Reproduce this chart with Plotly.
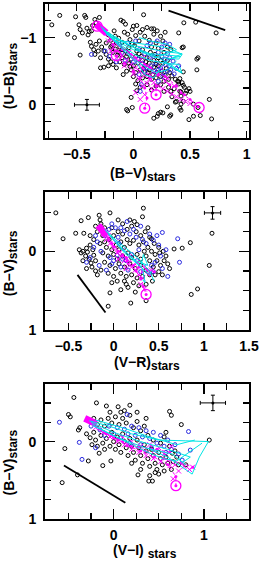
import plotly.graph_objects as go

# ---------------- Panel 1: (B-V) vs (U-B) ----------------
p1_black = [(-0.72,-1.19),(-0.65,-1.33),(-0.58,-1.05),(-0.52,-1.00),(-0.47,-0.74),(-0.51,-1.31),(-0.43,-1.33),(-0.48,-1.19),(-0.47,-1.12),(-0.41,-1.14),(-0.39,-1.09),(-0.42,-1.30),(-0.34,-1.27),(-0.45,-1.07),(-0.40,-1.04),(-0.37,-0.87),(-0.35,-0.82),(-0.31,-0.80),(-0.34,-0.75),(-0.26,-0.56),(-0.22,-0.58),(-0.29,-0.55),(-0.36,-1.18),(-0.33,-1.22),(-0.30,-1.30),(-0.37,-1.10),(-0.38,-0.93),(-0.33,-0.90),(-0.30,-0.95),(-0.28,-0.86),(-0.26,-0.80),(-0.24,-0.75),(-0.29,-0.70),(-0.22,-0.68),(-0.20,-0.64),(-0.18,-0.60),
(-0.17,-1.10),(-0.16,-1.02),(-0.13,-0.99),(-0.11,-1.26),(-0.09,-1.24),(-0.07,-1.20),(0.00,-1.17),(0.03,-1.18),(-0.01,-1.12),(0.09,-1.34),(0.08,-1.12),(-0.22,-1.04),(-0.20,-0.96),(-0.24,-0.92),(-0.19,-0.88),(-0.15,-0.92),(-0.12,-0.86),(-0.10,-0.93),(-0.07,-0.80),(-0.05,-1.05),(-0.03,-0.97),(-0.08,-1.08),(0.02,-1.03),(0.05,-0.95),(0.01,-0.88),(-0.04,-0.85),(0.06,-1.08),(0.10,-1.02),(0.12,-1.15),(0.14,-0.96),(0.16,-1.13),(0.18,-1.05),(0.21,-1.10),(0.24,-1.02),(0.20,-0.92),(0.26,-0.95),(0.28,-1.08),(0.18,-1.13),(0.30,-0.86),(0.16,-0.86),(0.08,-0.82),(0.22,-0.84),(0.27,-0.78),(0.33,-0.82),
(0.445,-1.22),(0.55,-1.23),(0.73,-1.07),(0.40,-1.07),(0.44,-0.86),(0.57,-0.70),(0.56,-0.52),(0.43,-0.85),(0.56,-0.68),
(-0.18,-0.78),(-0.14,-0.74),(-0.10,-0.70),(-0.06,-0.72),(-0.02,-0.68),(0.02,-0.72),(0.05,-0.76),(-0.12,-0.64),(-0.08,-0.60),(-0.04,-0.62),(0.00,-0.58),(0.04,-0.62),(0.08,-0.66),(0.12,-0.70),(0.10,-0.58),(0.14,-0.62),(0.18,-0.66),(0.22,-0.70),(0.06,-0.52),(0.02,-0.48),(-0.02,-0.52),(-0.06,-0.50),(0.10,-0.48),(0.14,-0.52),(0.18,-0.56),(0.22,-0.58),(0.26,-0.62),(0.30,-0.66),(0.17,-0.45),(0.21,-0.48),(0.25,-0.50),(0.29,-0.54),(0.08,-0.40),(0.12,-0.42),(0.16,-0.38),(0.20,-0.40),(0.24,-0.42),(0.28,-0.44),(0.04,-0.36),(0.00,-0.42),(0.32,-0.48),(0.34,-0.43),(0.31,-0.38),(0.27,-0.35),(-0.10,-0.82),(-0.01,-0.90),(0.15,-0.78),(0.19,-0.75),(-0.15,-0.55),(-0.09,-0.45),
(-0.20,-0.86),(-0.16,-0.83),(-0.13,-0.78),(-0.05,-0.76),(0.03,-0.80),(0.07,-0.72),(0.11,-0.64),(0.20,-0.60),(0.24,-0.66),(0.13,-0.48),(0.09,-0.54),(-0.03,-0.57),
(0.37,-0.38),(0.39,-0.35),(0.40,-0.31),(0.43,-0.33),(0.45,-0.26),(0.31,-0.26),(0.36,-0.24),(0.33,-0.20),(0.34,-0.12),(0.37,-0.04),(0.42,-0.19),(0.42,-0.13),(0.47,-0.21),(0.49,-0.24),(0.46,-0.17),(0.42,-0.01),(0.53,-0.01),(0.42,0.08),(0.30,0.03),(0.24,0.11),(0.22,0.13),(0.21,0.17),(0.18,0.20),(0.33,0.15),(0.49,0.22),(0.53,0.17),(0.69,0.21),(0.67,-0.08),(0.59,0.16),(0.57,0.04),(0.41,0.05),(0.44,-0.05),(0.38,-0.05),(0.41,-0.20),(0.44,-0.29),(0.40,-0.34),(0.41,-0.39),(0.44,-0.49),(0.50,-0.20),
(-0.02,-0.11),(-0.01,0.04),(-0.05,0.09),(0.02,-0.31),(0.03,-0.21),(-0.06,0.07),(0.26,0.12),(0.32,0.17),(0.27,-0.20),(0.20,-0.28),(0.16,-0.22),(0.06,-0.26),(0.12,-0.30),(0.24,-0.30)]

p1_blue = [(-0.37,-0.75),(-0.25,-0.80),(-0.15,-0.64),(-0.10,-0.78),(-0.05,-0.92),(0.02,-0.95),(0.05,-0.82),(0.10,-0.76),(0.12,-0.88),(0.15,-0.92),(0.18,-0.72),(0.22,-0.78),(0.25,-0.72),(0.28,-0.68),(0.30,-0.76),(0.32,-0.70),(0.35,-0.65),(0.32,-0.58),(0.28,-0.60),(0.24,-0.55),(0.20,-0.62),(0.16,-0.58),(0.12,-0.55),(0.08,-0.62),(0.04,-0.68),(0.00,-0.64),(0.05,-0.45),(0.10,-0.50),(0.18,-0.50),(0.22,-0.52),(0.27,-0.48),(0.30,-0.50),(0.33,-0.52),(0.36,-0.46),(0.38,-0.54),(0.26,-0.42),(0.22,-0.35),(0.07,-0.30),(0.06,-0.20),(0.21,-0.95),(0.25,-0.86),(0.28,-0.92),(0.32,-0.90),(-0.07,-0.66),(-0.21,-0.72),(0.40,-0.58),(0.14,-0.70),(-0.12,-0.90)]

p1_magenta_tracks = [
    [(-0.32,-1.18),(-0.25,-1.05),(-0.18,-0.90),(-0.15,-0.73),(-0.08,-0.62),(0.00,-0.50),(0.06,-0.40),(0.10,-0.25),(0.12,-0.10),(0.10,0.05)],
    [(-0.30,-1.15),(-0.20,-0.98),(-0.10,-0.82),(0.00,-0.68),(0.08,-0.55),(0.15,-0.40),(0.20,-0.28),(0.20,-0.15)],
    [(-0.28,-1.12),(-0.15,-0.92),(-0.02,-0.75),(0.10,-0.60),(0.22,-0.45),(0.32,-0.30),(0.42,-0.18),(0.50,-0.08),(0.57,0.03)],
    [(-0.26,-1.10),(-0.12,-0.88),(0.02,-0.70),(0.15,-0.55),(0.28,-0.42),(0.38,-0.28),(0.45,-0.15)],
]
p1_magenta_thick = [(-0.33,-1.20),(-0.29,-1.15),(-0.24,-1.07)]
p1_magenta_circles = [(-0.32,-1.17),(-0.15,-0.73),(0.10,0.05),(0.20,-0.15),(0.58,0.04)]
p1_magenta_crosses = [(-0.22,-0.95),(-0.18,-0.85),(-0.14,-0.80),(-0.10,-0.72),(-0.06,-0.66),(-0.02,-0.60),(0.02,-0.55),(0.06,-0.50),(0.10,-0.44),(0.14,-0.38),(0.18,-0.33),(0.22,-0.28),(0.26,-0.24),(0.30,-0.20),(0.34,-0.16),(0.38,-0.12),(0.42,-0.08),(0.46,-0.05),(0.50,-0.02),(-0.20,-0.80),(-0.15,-0.70),(-0.08,-0.58),(0.00,-0.46),(0.05,-0.38),(0.12,-0.32),(0.08,-0.28),(0.16,-0.24),(0.04,-0.65),(0.12,-0.58),(0.20,-0.45),(0.28,-0.35),(0.36,-0.28),(-0.04,-0.78),(0.08,-0.70),(0.24,-0.55),(0.02,-0.18),(0.10,-0.15),(0.06,-0.08),(0.15,-0.44),(0.30,-0.40)]
p1_cyan_tracks = [
    [(-0.29,-1.17),(-0.20,-1.02),(-0.05,-0.90),(0.10,-0.85),(0.25,-0.80),(0.43,-0.76)],
    [(-0.28,-1.15),(-0.15,-0.95),(0.00,-0.82),(0.15,-0.76),(0.30,-0.74),(0.42,-0.72),(0.35,-0.70)],
    [(-0.27,-1.12),(-0.12,-0.90),(0.02,-0.74),(0.15,-0.66),(0.28,-0.62),(0.40,-0.60),(0.43,-0.47),(0.35,-0.55)],
    [(-0.26,-1.10),(-0.10,-0.85),(0.03,-0.65),(0.12,-0.55),(0.20,-0.48),(0.30,-0.52),(0.38,-0.65)],
    [(-0.25,-1.08),(-0.08,-0.80),(0.04,-0.60),(0.10,-0.45),(0.18,-0.40),(0.25,-0.58),(0.32,-0.68),(0.43,-0.76)],
    [(-0.24,-1.05),(-0.05,-0.90),(0.08,-0.78),(0.20,-0.70),(0.38,-0.82),(0.30,-0.90),(0.15,-0.95),(0.05,-1.00)],
    [(-0.27,-1.12),(-0.10,-0.95),(0.10,-0.90),(0.30,-0.85),(0.43,-0.75),(0.40,-0.68),(0.25,-0.70)],
    [(-0.26,-1.10),(0.00,-0.86),(0.20,-0.72),(0.40,-0.52),(0.42,-0.48),(0.30,-0.60)],
]
p1_redvec = [(0.31,-1.40),(0.81,-1.11)]
p1_err = (-0.41, 0.0, 0.11, 0.08)

# ---------------- Panel 2: (V-R) vs (B-V) ----------------
p2_black = [(-0.64,-0.49),(-0.56,-0.16),(-0.42,-0.23),(-0.36,-0.39),(-0.28,-0.43),(-0.33,-0.23),(-0.36,0.02),(-0.31,0.06),(-0.25,0.15),(-0.18,0.30),(-0.23,-0.02),(-0.16,-0.46),(-0.15,-0.40),(-0.04,-0.49),(0.23,-0.38),(0.32,-0.44),(0.33,-0.55),(-0.04,0.53),(-0.06,0.70),(0.19,0.66),(0.08,0.49),(0.14,0.42),(0.16,0.46),(0.43,0.38),(0.36,0.63),(0.67,-0.03),(0.76,-0.04),(0.85,-0.11),(1.06,0.18),(1.09,-0.23),(0.86,0.55),(0.93,0.48),(0.60,0.16),(0.51,0.02),(0.42,-0.16),
(-0.38,-0.02),(-0.34,0.00),(-0.30,-0.04),(-0.26,-0.08),(-0.29,0.01),(-0.22,0.05),(-0.27,0.10),(-0.20,0.12),(-0.24,0.20),(-0.20,0.25),(-0.30,0.22),(-0.34,0.12),(-0.22,-0.15),(-0.18,-0.25),(-0.26,-0.20),(-0.14,-0.35),(-0.12,-0.20),(-0.10,-0.30),(-0.20,-0.32),
(-0.15,-0.10),(-0.10,-0.12),(-0.05,-0.15),(0.00,-0.20),(0.05,-0.25),(0.10,-0.22),(0.15,-0.28),(0.20,-0.32),(0.25,-0.25),(0.30,-0.20),(0.35,-0.25),(0.40,-0.18),(0.45,-0.10),(0.50,-0.05),(-0.08,-0.05),(-0.02,-0.02),(0.03,-0.08),(0.08,-0.12),(0.12,-0.05),(0.18,-0.10),(0.22,-0.14),(0.28,-0.08),(0.33,-0.12),(0.38,-0.05),(0.42,0.00),(0.46,0.04),(0.55,0.00),(0.58,0.06),(-0.12,0.02),(-0.06,0.06),(0.00,0.04),(0.04,0.10),(0.10,0.06),(0.16,0.02),(0.20,0.08),(0.26,0.04),(0.30,0.10),(0.36,0.06),(0.40,0.12),(0.48,0.12),(0.52,0.18),(-0.10,0.14),(-0.04,0.18),(0.02,0.22),(0.06,0.16),(0.12,0.20),(0.18,0.16),(0.24,0.22),(0.30,0.18),(0.36,0.24),(0.44,0.20),(0.50,0.26),(-0.14,0.24),(-0.06,0.28),(0.00,0.32),(0.08,0.28),(0.14,0.32),(0.20,0.30),(0.26,0.34),(0.32,0.32),(0.40,0.30),(0.46,0.30),(0.04,0.38),(0.12,0.38),(0.22,0.40),(0.28,0.44),(0.36,0.42),(-0.02,0.40),(0.24,0.52),(0.10,-0.35),(0.18,-0.40),(0.05,-0.40),(0.26,-0.34),(0.38,-0.30),(0.15,-0.15),(-0.02,-0.30),(0.06,-0.02),(0.34,0.00),(0.56,0.12),(0.62,0.22),(0.54,0.30)]

p2_blue = [(0.54,-0.24),(0.71,-0.16),(0.73,0.14),(0.60,0.32),(-0.08,0.24),(-0.20,-0.20),(-0.18,-0.12),(-0.22,-0.05),(-0.14,0.00),(-0.10,-0.20),(-0.05,-0.28),(-0.02,-0.35),(0.02,-0.30),(0.05,-0.18),(0.08,-0.30),(0.12,-0.26),(0.15,-0.38),(0.18,-0.22),(0.22,-0.28),(0.25,-0.18),(0.30,-0.32),(0.32,-0.15),(0.36,-0.10),(0.40,-0.22),(0.44,-0.14),(0.48,-0.20),(0.50,-0.08),(0.46,0.14),(0.52,0.06),(0.42,0.18),(0.38,0.26),(0.10,0.10),(0.04,0.05),(0.00,0.12),(-0.04,0.08),(0.14,0.12),(0.20,0.04),(0.26,0.12),(0.16,0.24),(0.08,0.20),(-0.02,0.16),(-0.26,0.08),(-0.30,0.14),(-0.16,0.18),(0.30,0.26),(0.54,0.22),(0.58,-0.02),(0.06,-0.10),(0.28,-0.02),(0.44,0.26)]

p2_magenta_tracks = [
    [(-0.16,-0.32),(-0.05,-0.15),(0.05,0.00),(0.15,0.12),(0.25,0.25),(0.30,0.35),(0.33,0.45),(0.36,0.55)],
    [(-0.15,-0.30),(-0.02,-0.10),(0.10,0.05),(0.22,0.18),(0.32,0.26),(0.40,0.30)],
    [(-0.14,-0.28),(0.00,-0.06),(0.14,0.08),(0.28,0.20),(0.38,0.24),(0.45,0.26)],
]
p2_magenta_thick = [(-0.17,-0.33),(-0.13,-0.27),(-0.08,-0.20)]
p2_magenta_circles = [(0.36,0.55)]
p2_magenta_crosses = [(-0.12,-0.22),(-0.08,-0.15),(-0.04,-0.10),(0.00,-0.04),(0.04,0.02),(0.08,0.06),(0.12,0.12),(0.16,0.16),(0.20,0.20),(0.24,0.24),(0.28,0.30),(0.32,0.34),(0.30,0.42),(0.34,0.48),(-0.06,-0.20),(0.02,-0.12),(0.10,-0.02),(0.18,0.06),(0.26,0.14),(0.34,0.20),(0.42,0.24),(0.05,0.10),(0.14,0.22)]
p2_cyan_tracks = [
    [(-0.10,-0.28),(0.05,-0.12),(0.18,0.00),(0.30,0.12),(0.40,0.26),(0.45,0.38)],
    [(-0.08,-0.25),(0.08,-0.06),(0.22,0.10),(0.32,0.22),(0.35,0.40),(0.32,0.36)],
    [(-0.06,-0.22),(0.10,-0.02),(0.25,0.12),(0.38,0.18),(0.33,0.04),(0.30,0.20)],
    [(-0.04,-0.20),(0.12,0.02),(0.26,0.16),(0.40,0.30),(0.42,0.25)],
]
p2_redvec = [(-0.40,0.30),(-0.09,0.78)]
p2_err = (1.096, -0.49, 0.09, 0.08)

# ---------------- Panel 3: (V-I) vs (B-V) ----------------
p3_black = [(-0.44,-0.57),(-0.50,-0.35),(-0.48,-0.32),(-0.57,0.53),(-0.54,0.09),(-0.40,0.43),(-0.375,-0.18),(-0.39,-0.15),(-0.19,-0.50),(-0.08,-0.46),(0.05,-0.45),(0.18,-0.47),(0.62,-0.39),(0.64,-0.34),(0.75,-0.22),(0.58,-0.12),(1.06,-0.02),(0.65,0.15),(0.43,0.51),(0.39,0.51),(0.27,0.43),(-0.12,0.31),(-0.28,0.25),(-0.03,0.25),
(-0.30,-0.10),(-0.26,-0.05),(-0.22,-0.12),(-0.20,-0.02),(-0.18,0.06),(-0.24,0.04),(-0.14,-0.08),(-0.12,0.02),(-0.10,0.10),(-0.16,0.15),(-0.08,-0.04),(-0.04,0.06),(-0.02,-0.12),(0.00,0.00),(0.02,0.10),(0.04,-0.06),(0.06,0.04),(0.08,0.14),(0.10,-0.10),(0.12,0.00),(0.14,0.08),(0.16,0.18),(0.18,-0.04),(0.20,0.06),(0.22,0.14),(0.24,0.24),(0.26,-0.02),(0.28,0.08),(0.30,0.18),(0.32,0.28),(0.34,0.04),(0.36,0.12),(0.38,0.22),(0.40,0.32),(0.42,0.10),(0.44,0.18),(0.46,0.28),(0.48,0.36),(0.50,0.14),(0.52,0.22),(0.54,0.30),(0.56,0.38),(0.58,0.20),(0.60,0.28),(0.46,0.40),(0.40,0.44),(0.50,0.42),(0.30,0.36),(0.20,0.28),
(-0.22,-0.30),(-0.18,-0.22),(-0.14,-0.28),(-0.10,-0.20),(-0.06,-0.30),(-0.02,-0.24),(0.02,-0.32),(0.06,-0.22),(0.10,-0.30),(0.14,-0.24),(0.18,-0.34),(0.22,-0.18),(0.26,-0.26),(0.30,-0.14),(0.34,-0.20),(0.08,-0.38),(-0.04,-0.38),(0.12,-0.40),(0.38,-0.08),(0.44,-0.02),(0.52,0.02),(0.56,-0.06),(0.62,0.06),(0.68,0.12),(0.70,0.20),(0.66,0.26),(0.72,0.30),(0.64,0.36),(0.36,-0.30),(0.26,-0.38),(0.80,0.30)]

p3_blue = [(-0.60,-0.25),(-0.35,0.23),(-0.38,0.01),(0.83,-0.13),(0.85,0.11),(0.15,-0.35),(-0.10,-0.08),(-0.05,-0.20),(0.00,-0.10),(0.04,-0.18),(0.08,-0.05),(0.12,-0.16),(0.16,-0.10),(0.20,-0.20),(0.24,-0.08),(0.28,-0.18),(0.32,-0.06),(0.36,-0.14),(0.40,-0.04),(0.44,-0.12),(0.48,0.02),(0.52,-0.08),(0.56,0.06),(0.60,-0.02),(0.64,0.10),(0.68,0.04),(0.72,0.16),(0.30,0.04),(0.18,0.02),(-0.15,-0.15),(-0.20,0.08),(0.42,0.08),(0.76,0.24),(0.58,0.14),(-0.25,-0.20)]

p3_magenta_tracks = [
    [(-0.30,-0.28),(-0.15,-0.16),(0.00,-0.05),(0.15,0.05),(0.30,0.12),(0.45,0.20),(0.60,0.30),(0.69,0.45),(0.69,0.57)],
    [(-0.28,-0.26),(-0.10,-0.12),(0.05,-0.02),(0.20,0.06),(0.35,0.12),(0.55,0.22),(0.75,0.28),(0.88,0.33)],
    [(-0.26,-0.24),(-0.08,-0.10),(0.10,0.00),(0.28,0.06),(0.48,0.10),(0.62,0.14)],
]
p3_magenta_thick = [(-0.32,-0.30),(-0.26,-0.27),(-0.19,-0.23)]
p3_magenta_circles = [(0.69,0.57)]
p3_magenta_crosses = [(0.875,0.33),(0.625,0.31),(0.64,0.06),(0.45,0.12),(-0.20,-0.18),(-0.12,-0.12),(-0.04,-0.06),(0.04,0.00),(0.12,0.04),(0.20,0.10),(0.28,0.14),(0.36,0.18),(0.44,0.22),(0.52,0.26),(0.60,0.24),(0.68,0.30),(0.72,0.38),(0.66,0.48),(0.30,0.06),(0.40,0.04),(0.50,0.08),(0.20,0.00),(0.10,-0.06),(0.56,0.16),(0.78,0.32),(0.84,0.36)]
p3_cyan_tracks = [
    [(-0.27,-0.27),(-0.05,-0.20),(0.20,-0.10),(0.50,-0.02),(0.80,-0.01),(1.05,0.00),(0.95,0.20),(0.87,0.42),(0.60,0.20),(0.40,0.10)],
    [(-0.25,-0.25),(0.00,-0.12),(0.30,0.00),(0.60,0.10),(0.85,0.20),(0.75,0.28)],
    [(-0.24,-0.22),(0.05,-0.05),(0.35,0.08),(0.65,0.16),(0.80,0.30)],
    [(-0.22,-0.20),(0.10,-0.02),(0.40,0.15),(0.55,0.22),(0.70,0.25),(0.98,0.02)],
    [(-0.20,-0.28),(0.10,-0.18),(0.40,-0.06),(0.70,0.04),(0.90,-0.02)],
]
p3_redvec = [(-0.55,0.31),(0.13,0.79)]
p3_err = (1.10, -0.50, 0.14, 0.10)

BLACK = "#000000"
BLUE = "#2a2ae0"
MAG = "#ff00ff"
CYAN = "#00e5e5"

fig = go.Figure()

def xs(pts):
    return [p[0] for p in pts]

def ys(pts):
    return [p[1] for p in pts]

def add_panel(n, black, blue, mtracks, mthick, mcircles, mcrosses, ctracks, redvec, err):
    xa = "x" if n == 1 else f"x{n}"
    ya = "y" if n == 1 else f"y{n}"
    fig.add_trace(go.Scatter(x=xs(black), y=ys(black), mode="markers", xaxis=xa, yaxis=ya,
                             marker=dict(symbol="circle-open", size=4, color=BLACK, line=dict(width=1, color=BLACK))))
    fig.add_trace(go.Scatter(x=xs(blue), y=ys(blue), mode="markers", xaxis=xa, yaxis=ya,
                             marker=dict(symbol="circle-open", size=4, color=BLUE, line=dict(width=1, color=BLUE))))
    for t in mtracks:
        fig.add_trace(go.Scatter(x=xs(t), y=ys(t), mode="lines+markers", xaxis=xa, yaxis=ya,
                                 line=dict(color=MAG, width=1, dash="dot"),
                                 marker=dict(size=3, color=MAG)))
    fig.add_trace(go.Scatter(x=xs(mcrosses), y=ys(mcrosses), mode="markers", xaxis=xa, yaxis=ya,
                             marker=dict(symbol="x-thin-open", size=5, color=MAG, line=dict(width=1, color=MAG))))
    fig.add_trace(go.Scatter(x=xs(mthick), y=ys(mthick), mode="lines", xaxis=xa, yaxis=ya,
                             line=dict(color=MAG, width=7)))
    fig.add_trace(go.Scatter(x=xs(mcircles), y=ys(mcircles), mode="markers", xaxis=xa, yaxis=ya,
                             marker=dict(symbol="circle-open", size=10, color=MAG, line=dict(width=1.3, color=MAG))))
    for t in ctracks:
        fig.add_trace(go.Scatter(x=xs(t), y=ys(t), mode="lines", xaxis=xa, yaxis=ya,
                                 line=dict(color=CYAN, width=1)))
    fig.add_trace(go.Scatter(x=xs(redvec), y=ys(redvec), mode="lines", xaxis=xa, yaxis=ya,
                             line=dict(color=BLACK, width=1.8)))
    ex, ey, dx, dy = err
    fig.add_trace(go.Scatter(x=[ex], y=[ey], mode="markers", xaxis=xa, yaxis=ya,
                             marker=dict(size=3, color=BLACK),
                             error_x=dict(type="data", array=[dx], color=BLACK, thickness=1, width=2),
                             error_y=dict(type="data", array=[dy], color=BLACK, thickness=1, width=2)))

add_panel(1, p1_black, p1_blue, p1_magenta_tracks, p1_magenta_thick, p1_magenta_circles, p1_magenta_crosses, p1_cyan_tracks, p1_redvec, p1_err)
add_panel(2, p2_black, p2_blue, p2_magenta_tracks, p2_magenta_thick, p2_magenta_circles, p2_magenta_crosses, p2_cyan_tracks, p2_redvec, p2_err)
add_panel(3, p3_black, p3_blue, p3_magenta_tracks, p3_magenta_thick, p3_magenta_circles, p3_magenta_crosses, p3_cyan_tracks, p3_redvec, p3_err)

FONT = "Liberation Sans"
tickfont = dict(family=FONT, size=14, color="black", weight="bold")

def axis_common(dtick, minor_dtick, rng, major_len=8, minor_len=6):
    return dict(range=rng, dtick=dtick, tick0=0, ticks="inside", ticklen=major_len, tickwidth=1.3,
                tickcolor="black", showline=True, linewidth=2, linecolor="black", mirror="allticks",
                showgrid=False, zeroline=False, tickfont=tickfont,
                minor=dict(dtick=minor_dtick, tick0=0, ticks="inside", ticklen=minor_len, tickwidth=1.2,
                           tickcolor="black", showgrid=False))

x1 = axis_common(0.5, 0.25, [-0.78, 1.02], 7, 7); x1.update(anchor="y", domain=[0, 1], ticklabelstandoff=2)
y1 = axis_common(1, 0.25, [0.5, -1.5], 10, 6); y1.update(anchor="x", domain=[0.739, 1.0], ticklabelstandoff=4)
x2 = axis_common(0.5, 0.25, [-0.76, 1.5], 7, 7); x2.update(anchor="y2", domain=[0, 1], ticklabelstandoff=2)
y2 = axis_common(1, 0.25, [1.0, -0.75], 10, 6); y2.update(anchor="x2", domain=[0.3675, 0.634], ticklabelstandoff=4)
x3 = axis_common(1, 0.25, [-0.76, 1.5], 10, 6); x3.update(anchor="y3", domain=[0, 1], ticklabelstandoff=2)
y3 = axis_common(1, 0.25, [1.0, -0.75], 10, 6); y3.update(anchor="x3", domain=[0.0, 0.263], ticklabelstandoff=4)

fig.update_layout(
    width=261, height=562,
    margin=dict(l=45, r=11, t=2, b=43),
    paper_bgcolor="white", plot_bgcolor="white",
    showlegend=False, hovermode=False,
    xaxis=x1, yaxis=y1, xaxis2=x2, yaxis2=y2, xaxis3=x3, yaxis3=y3,
)

title_font = dict(family=FONT, size=14, color="black", weight="bold")
SUB = '<sub><span style="font-size:12px">stars</span></sub>'
annots = [
    (0.480, 0.669, "(B−V)" + SUB, 0),
    (-0.171, 0.860, "(U−B)" + SUB, -90),
    (0.498, 0.301, "(V−R)" + SUB, 0),
    (-0.171, 0.497, "(B−V)" + SUB, -90),
    (0.488, -0.063, "(V−I) " + SUB, 0),
    (-0.171, 0.110, "(B−V)" + SUB, -90),
]
for ax, ay, txt, ang in annots:
    fig.add_annotation(x=ax, y=ay, xref="paper", yref="paper", text=txt, showarrow=False,
                       textangle=ang, font=title_font, xanchor="center", yanchor="middle")

fig.write_html("out.html", config={"displayModeBar": False, "staticPlot": True},
               post_script="document.body.style.margin='0';document.body.style.overflow='hidden';")
